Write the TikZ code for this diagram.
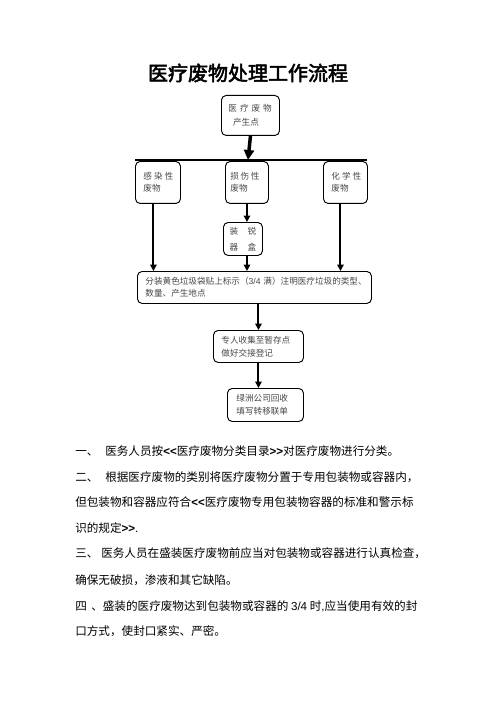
\documentclass[tikz,border=0pt]{standalone}
\usepackage{fontspec}
\setmainfont{Noto Sans CJK SC}
\newfontfamily\titlefont[AutoFakeBold=2.5]{Noto Sans CJK SC}
\newfontfamily\latinsans{Liberation Sans}
\usetikzlibrary{arrows.meta,calc}
\begin{document}
\begin{tikzpicture}[x=0.75pt,y=-0.75pt,
  box/.style={draw=black, line width=0.7pt, rounded corners=3.5pt, anchor=north west,
    align=left, inner ysep=0pt, text=black!72, font=\fontsize{6.45pt}{9pt}\selectfont},
  arr/.style={line width=1.5pt, -{Triangle[width=4.8pt,length=4.8pt]}},
  bigarr/.style={line width=2.6pt, -{Triangle[width=7.5pt,length=7.5pt]}},
  body/.style={anchor=west, inner sep=0pt, font=\fontsize{8.7pt}{10pt}\selectfont, text=black},
]
\useasboundingbox (0,0) rectangle (496,702);
\fill[white] (0,0) rectangle (496,702);

\node[inner sep=0pt, font=\titlefont\bfseries\fontsize{15pt}{15pt}\selectfont] (title) at (248,73) {医疗废物处理工作流程};

\node[box, minimum width=43.5pt, minimum height=30pt, inner xsep=5.25pt, text width=33pt,
  font=\fontsize{6.45pt}{10.5pt}\selectfont] (b0) at (221,95)
  {医\kern2.2pt 疗\kern2.2pt 废\kern2.2pt 物\\\hspace*{3.5pt}产生点};

\coordinate (split) at (248,160);
\coordinate (hl) at (135,160);
\coordinate (hr) at (367,160);
\draw[line width=0.9pt] (hl) -- (hr);
\draw[bigarr] (b0.south) -- (split);

\node[box, minimum width=33.75pt, minimum height=31.5pt, inner xsep=6pt, text width=21.75pt] (b1) at (135,161)
  {感\kern1.5pt 染\kern1.5pt 性\\废物};
\node[box, minimum width=32.25pt, minimum height=31.5pt, inner xsep=3.75pt, text width=24.75pt] (b2) at (225,161)
  {损\kern1.2pt 伤\kern1.2pt 性\\废物};
\node[box, minimum width=33pt, minimum height=31.5pt, inner xsep=6pt, text width=21pt] (b3) at (323,161)
  {化\kern1.5pt 学\kern1.5pt 性\\废物};
\node[box, minimum width=29.25pt, minimum height=24.75pt, inner xsep=0pt, align=center,
  font=\fontsize{6.45pt}{12pt}\selectfont] (b4) at (223,222)
  {装\kern7pt 锐\\器\kern7pt 盒};

\node[box, minimum width=175.5pt, minimum height=24pt, inner xsep=6pt, text width=163.5pt] (b5) at (137,271)
  {分装黄色垃圾袋贴上标示（{\latinsans 3/4}~满）注明医疗垃圾的类型、\\数量、产生地点};

\node[box, minimum width=67.5pt, minimum height=24pt, inner xsep=6pt, text width=55.5pt,
  font=\fontsize{6.45pt}{9.75pt}\selectfont] (b6) at (213,330)
  {专人收集至暂存点\\做好交接登记};
\node[box, minimum width=57pt, minimum height=24.75pt, inner xsep=6.75pt, text width=43.5pt,
  font=\fontsize{6.45pt}{9.75pt}\selectfont] (b7) at (227,388)
  {绿洲公司回收\\填写转移联单};

\draw[arr] ([xshift=-3.4pt]b1.south) -- ([xshift=-3.4pt]b1.south |- b5.north);
\draw[arr] (b2.south) -- (b2.south |- b4.north);
\draw[arr] (b2.south |- b4.south) -- (b2.south |- b5.north);
\draw[arr] ([xshift=-3.75pt]b3.south) -- ([xshift=-3.75pt]b3.south |- b5.north);
\draw[arr] (b6.north |- b5.south) -- (b6.north);
\draw[arr] (b6.south) -- (b6.south |- b7.north);

\node[body] (l1) at (75,451) {\makebox[22.5pt][l]{一、}医务人员按{\latinsans\bfseries <<}医疗废物分类目录{\latinsans\bfseries >>}对医疗废物进行分类。};
\node[body] (l2) at (75,477) {\makebox[22.5pt][l]{二、}根据医疗废物的类别将医疗废物分置于专用包装物或容器内，};
\node[body] (l3) at (75,502) {但包装物和容器应符合{\latinsans\bfseries <<}医疗废物专用包装物容器的标准和警示标};
\node[body] (l4) at (75,528) {识的规定{\latinsans\bfseries >>}{\latinsans .}};
\node[body] (l5) at (75,553) {\makebox[19.5pt][l]{三、}医务人员在盛装医疗废物前应当对包装物或容器进行认真检查，};
\node[body] (l6) at (75,580) {确保无破损，渗液和其它缺陷。};
\node[body] (l7) at (75,606) {\makebox[12pt][l]{四}、盛装的医疗废物达到包装物或容器的 {\latinsans 3/4} 时{\latinsans ,}应当使用有效的封};
\node[body] (l8) at (75,631) {口方式，使封口紧实、严密。};
\end{tikzpicture}
\end{document}
